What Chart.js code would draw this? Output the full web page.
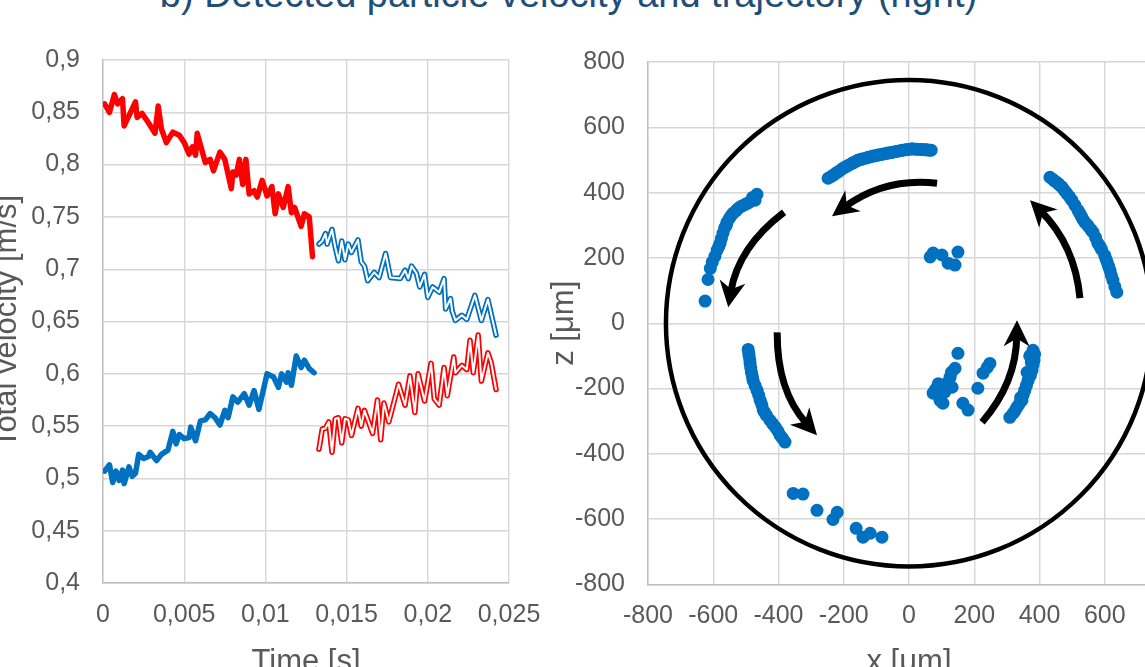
<!DOCTYPE html>
<html>
<head>
<meta charset="utf-8">
<script src="https://cdn.jsdelivr.net/npm/chart.js@4.4.1/dist/chart.umd.min.js"></script>
<style>
  html, body { margin:0; padding:0; width:1145px; height:667px; overflow:hidden; background:#fff; }
  #title { position:absolute; left:-4px; top:-26px; width:1145px; line-height:40px; text-align:center;
           font-size:38px; font-family:"Liberation Sans", Arial, sans-serif; color:#1F4E79; white-space:nowrap; }
  #velChart { position:absolute; left:-20px; top:0; }
  #trajChart { position:absolute; left:520px; top:0; }
</style>
</head>
<body>
<div id="title">b) Detected particle velocity and trajectory (right)</div>
<canvas id="velChart" width="580" height="700"></canvas>
<canvas id="trajChart" width="700" height="700"></canvas>
<script>
// ---- left chart: total velocity [m/s] over time [s] ----
var redThickT = [0.0001,0.0004,0.0007,0.0009,0.0012,0.0013,0.0020,0.0021,0.0024,0.0028,0.0032,0.0034,0.0036,0.0039,0.0043,0.0047,0.0050,0.0053,0.0055,0.0057,0.0058,0.0063,0.0066,0.0068,0.0072,0.0075,0.0079,0.0080,0.0082,0.0084,0.0086,0.0088,0.0090,0.0093,0.0095,0.0098,0.0101,0.0104,0.0106,0.0108,0.0111,0.0114,0.0116,0.0118,0.0122,0.0124,0.0127,0.0129];
var redThickV = [0.858,0.850,0.867,0.858,0.863,0.837,0.860,0.845,0.849,0.840,0.830,0.856,0.834,0.821,0.831,0.828,0.821,0.810,0.817,0.809,0.830,0.802,0.805,0.794,0.812,0.805,0.777,0.793,0.790,0.805,0.781,0.805,0.772,0.775,0.769,0.785,0.770,0.779,0.753,0.772,0.759,0.779,0.754,0.759,0.741,0.753,0.750,0.712];

var blueThickT = [0.0001,0.0004,0.0006,0.0008,0.0010,0.0012,0.0013,0.0016,0.0018,0.0020,0.0022,0.0025,0.0028,0.0029,0.0033,0.0036,0.0040,0.0043,0.0045,0.0047,0.0050,0.0053,0.0054,0.0057,0.0060,0.0063,0.0066,0.0069,0.0072,0.0075,0.0077,0.0080,0.0083,0.0087,0.0090,0.0093,0.0096,0.0101,0.0105,0.0108,0.0110,0.0113,0.0114,0.0116,0.0119,0.0122,0.0124,0.0127,0.0130];
var blueThickV = [0.507,0.513,0.496,0.507,0.498,0.508,0.495,0.511,0.502,0.505,0.523,0.519,0.521,0.525,0.517,0.523,0.527,0.545,0.533,0.542,0.538,0.539,0.549,0.536,0.555,0.556,0.562,0.558,0.551,0.565,0.558,0.578,0.573,0.581,0.570,0.584,0.566,0.600,0.597,0.587,0.600,0.592,0.601,0.589,0.617,0.606,0.613,0.605,0.601];

var blueHollowT = [0.0133,0.0135,0.0137,0.0138,0.0141,0.0143,0.0145,0.0147,0.0149,0.0151,0.0153,0.0157,0.0159,0.0161,0.0163,0.0167,0.0170,0.0174,0.0177,0.0183,0.0186,0.0188,0.0190,0.0193,0.0195,0.0198,0.0200,0.0203,0.0207,0.0210,0.0211,0.0214,0.0215,0.0217,0.0221,0.0224,0.0229,0.0233,0.0237,0.0242];
var blueHollowV = [0.724,0.727,0.734,0.724,0.738,0.721,0.708,0.727,0.709,0.724,0.716,0.728,0.707,0.703,0.689,0.697,0.692,0.715,0.692,0.691,0.699,0.691,0.703,0.696,0.683,0.695,0.673,0.683,0.678,0.691,0.662,0.672,0.660,0.651,0.656,0.652,0.675,0.651,0.671,0.637];

var redHollowT = [0.0133,0.0135,0.0137,0.0139,0.0141,0.0143,0.0145,0.0147,0.0149,0.0151,0.0153,0.0157,0.0159,0.0161,0.0166,0.0169,0.0171,0.0173,0.0176,0.0182,0.0186,0.0189,0.0192,0.0194,0.0198,0.0202,0.0204,0.0207,0.0210,0.0212,0.0216,0.0217,0.0221,0.0224,0.0226,0.0228,0.0231,0.0233,0.0237,0.0239,0.0242];
var redHollowV = [0.528,0.547,0.548,0.554,0.525,0.557,0.558,0.534,0.557,0.556,0.541,0.567,0.550,0.565,0.543,0.575,0.537,0.572,0.554,0.590,0.570,0.598,0.563,0.600,0.574,0.610,0.576,0.570,0.606,0.579,0.616,0.601,0.608,0.604,0.632,0.601,0.637,0.593,0.620,0.611,0.585];

var timeTicks = ['0', '0,005', '0,01', '0,015', '0,02', '0,025'];
var velTicks = ['0,4', '0,45', '0,5', '0,55', '0,6', '0,65', '0,7', '0,75', '0,8', '0,85', '0,9'];

// ---- right chart: particle positions x, z [um] ----
var trajX = [
  // top arc
  -248,-238,-230,-222,-215,-207,-200,-192,-185,-176,-170,-160,-155,-146,-140,-130,-125,-115,-110,-100,-95,-86,-80,-70,-65,-55,-50,-40,-35,-24,-20,-10,-5,5,10,20,25,35,40,50,55,62,68,
  // upper left arc
  -466,-472,-480,-490,-500,-510,-518,-525,-530,-539,-545,-550,-558,-560,-565,-570,-575,-579,-583,-588,-595,-603,-609,-616,-625,
  // right arc
  432,440,445,452,458,464,469,476,484,492,499,508,518,523,528,533,539,546,552,558,564,572,579,585,590,600,604,608,612,616,620,625,631,637,
  // small group near the centre, top
  74,65,101,120,141,150,
  // lower left arc
  -493,-491,-490,-488,-487,-485,-483,-480,-478,-472,-466,-461,-456,-451,-447,-442,-437,-426,-418,-410,-402,-395,-388,-380,
  // bottom group
  -355,-325,-282,-220,-233,-162,-141,-119,-83,
  // lower centre group
  150,141,126,116,86,74,95,104,132,165,181,211,227,248,100,110,80,130,240,90,
  // lower right arc
  380,385,383,380,377,372,365,360,355,350,346,338,331,325,319,309,370,362,375,342
];
var trajZ = [
  444,450,455,461,465,471,476,480,484,489,492,497,500,502,504,506,508,511,512,514,515,517,518,520,521,523,524,526,527,529,530,531,532,533,534,533,533,532,532,531,531,530,530,
  395,377,385,370,365,360,356,350,345,337,330,322,309,300,292,276,260,245,235,224,205,187,168,134,68,
  447,441,437,432,427,421,417,407,397,387,377,362,346,337,328,318,309,302,294,286,279,262,245,236,226,208,196,185,174,162,147,132,112,95,
  215,203,209,184,178,218,
  -80,-92,-100,-112,-123,-137,-150,-163,-175,-190,-205,-220,-236,-250,-266,-274,-282,-297,-308,-318,-330,-343,-352,-364,
  -521,-523,-573,-579,-601,-628,-655,-643,-655,
  -92,-138,-165,-184,-196,-214,-236,-245,-196,-245,-266,-199,-153,-123,-200,-210,-205,-150,-135,-185,
  -83,-95,-113,-128,-144,-160,-175,-190,-205,-220,-236,-247,-257,-268,-276,-288,-100,-150,-120,-228
];
var posTicks = ['-800', '-600', '-400', '-200', '0', '200', '400', '600', '800'];

// channel wall (circle) and flow arrows, in um
var wallCenter = [0, 0];
var wallRadius = 745;
// each arrow: start, middle, tip
var arrowX = [[524, 478, 371], [86, -74, -236], [-383, -496, -554], [-404, -374, -282], [224, 303, 331]];
var arrowZ = [[77, 233, 377], [429, 413, 328], [340, 214, 49], [-28, -196, -343], [-303, -165, 9]];

function toPoints(xs, ys) {
  return xs.map(function(x, i) { return {x: x, y: ys[i]}; });
}

var axisFont = {family: '"Liberation Sans", Arial, sans-serif', size: 25};
var titleFont = {family: '"Liberation Sans", Arial, sans-serif', size: 31};
var grey = '#595959';
var gridStyle = {color: '#d6d6d6', lineWidth: 1.4, drawTicks: false};

function lineSet(t, v, color, width, order) {
  return {
    data: toPoints(t, v), borderColor: color, borderWidth: width, pointRadius: 0,
    tension: 0, borderJoinStyle: 'round', borderCapStyle: 'round', order: order, fill: false
  };
}

new Chart(document.getElementById('velChart'), {
  type: 'line',
  data: {
    datasets: [
      lineSet(redThickT, redThickV, '#FF0000', 5.5, 2),
      lineSet(blueThickT, blueThickV, '#0070C0', 5.5, 2),
      // double (hollow) lines: white core over a coloured stroke
      lineSet(blueHollowT, blueHollowV, '#FFFFFF', 2, 0),
      lineSet(blueHollowT, blueHollowV, '#0070C0', 5.5, 1),
      lineSet(redHollowT, redHollowV, '#FFFFFF', 2, 0),
      lineSet(redHollowT, redHollowV, '#FF0000', 5.5, 1)
    ]
  },
  options: {
    responsive: false,
    animation: false,
    layout: {padding: {top: 60, right: 51, left: 0, bottom: 0}},
    plugins: {legend: {display: false}, tooltip: {enabled: false}},
    scales: {
      x: {
        type: 'linear', min: 0, max: 0.025,
        afterFit: function(s) { s.height = 117; },
        ticks: {stepSize: 0.005, color: grey, font: axisFont, padding: 17, maxRotation: 0,
                callback: function(v, i) { return timeTicks[i]; }},
        grid: gridStyle,
        border: {color: '#bfbfbf', width: 1.4},
        title: {display: true, text: 'Time [s]', color: grey, font: titleFont, padding: {bottom: 19}}
      },
      y: {
        min: 0.4, max: 0.9,
        afterFit: function(s) { s.width = 123; },
        ticks: {stepSize: 0.05, color: grey, font: axisFont, padding: 23,
                callback: function(v, i) { return velTicks[i]; }},
        grid: gridStyle,
        border: {color: '#bfbfbf', width: 1.4},
        title: {display: true, text: 'Total velocity [m/s]', color: grey, font: titleFont, padding: {top: 9}}
      }
    }
  }
});

var wallAndArrows = {
  id: 'wallAndArrows',
  afterDatasetsDraw: function(chart) {
    var ctx = chart.ctx, xs = chart.scales.x, ys = chart.scales.y;
    ctx.save();
    var cx = xs.getPixelForValue(wallCenter[0]), cy = ys.getPixelForValue(wallCenter[1]);
    var rx = xs.getPixelForValue(wallCenter[0] + wallRadius) - cx;
    var ry = cy - ys.getPixelForValue(wallCenter[1] + wallRadius);
    ctx.beginPath();
    ctx.ellipse(cx, cy, rx, ry, 0, 0, 2 * Math.PI);
    ctx.lineWidth = 4.5;
    ctx.strokeStyle = '#000';
    ctx.stroke();

    ctx.fillStyle = '#000';
    for (var i = 0; i < arrowX.length; i++) {
      var p = arrowX[i].map(function(v, j) { return [xs.getPixelForValue(v), ys.getPixelForValue(arrowZ[i][j])]; });
      // control point so that the curve goes through the middle point
      var c = [2 * p[1][0] - (p[0][0] + p[2][0]) / 2, 2 * p[1][1] - (p[0][1] + p[2][1]) / 2];
      var a = Math.atan2(p[2][1] - c[1], p[2][0] - c[0]);
      var len = 26, half = 13;
      var cos = Math.cos(a), sin = Math.sin(a);
      ctx.beginPath();
      ctx.moveTo(p[0][0], p[0][1]);
      ctx.quadraticCurveTo(c[0], c[1], p[2][0] - cos * len * 0.6, p[2][1] - sin * len * 0.6);
      ctx.lineWidth = 7;
      ctx.stroke();
      ctx.beginPath();
      ctx.moveTo(p[2][0], p[2][1]);
      ctx.lineTo(p[2][0] - cos * len + sin * half, p[2][1] - sin * len - cos * half);
      ctx.lineTo(p[2][0] - cos * len * 0.7, p[2][1] - sin * len * 0.7);
      ctx.lineTo(p[2][0] - cos * len - sin * half, p[2][1] - sin * len + cos * half);
      ctx.closePath();
      ctx.fill();
    }
    ctx.restore();
  }
};

new Chart(document.getElementById('trajChart'), {
  type: 'scatter',
  data: {
    datasets: [{
      data: toPoints(trajX, trajZ),
      backgroundColor: '#0070C0', borderWidth: 0, pointRadius: 6.5
    }]
  },
  options: {
    responsive: false,
    animation: false,
    layout: {padding: {top: 62, right: 50, left: 0, bottom: 0}},
    plugins: {legend: {display: false}, tooltip: {enabled: false}},
    scales: {
      x: {
        type: 'linear', min: -800, max: 800,
        afterFit: function(s) { s.height = 115.5; },
        ticks: {stepSize: 200, color: grey, font: axisFont, padding: 17, maxRotation: 0, autoSkip: false,
                callback: function(v, i) { return posTicks[i]; }},
        grid: gridStyle,
        border: {color: '#bfbfbf', width: 1.4},
        title: {display: true, text: 'x [\u03bcm]', color: grey, font: titleFont, padding: {bottom: 19}}
      },
      y: {
        min: -800, max: 800,
        afterFit: function(s) { s.width = 128; },
        ticks: {stepSize: 200, color: grey, font: axisFont, padding: 23,
                callback: function(v, i) { return posTicks[i]; }},
        grid: gridStyle,
        border: {color: '#bfbfbf', width: 1.4},
        title: {display: true, text: 'z [\u03bcm]', color: grey, font: titleFont, padding: {top: 26}}
      }
    }
  },
  plugins: [wallAndArrows]
});
</script>
</body>
</html>
